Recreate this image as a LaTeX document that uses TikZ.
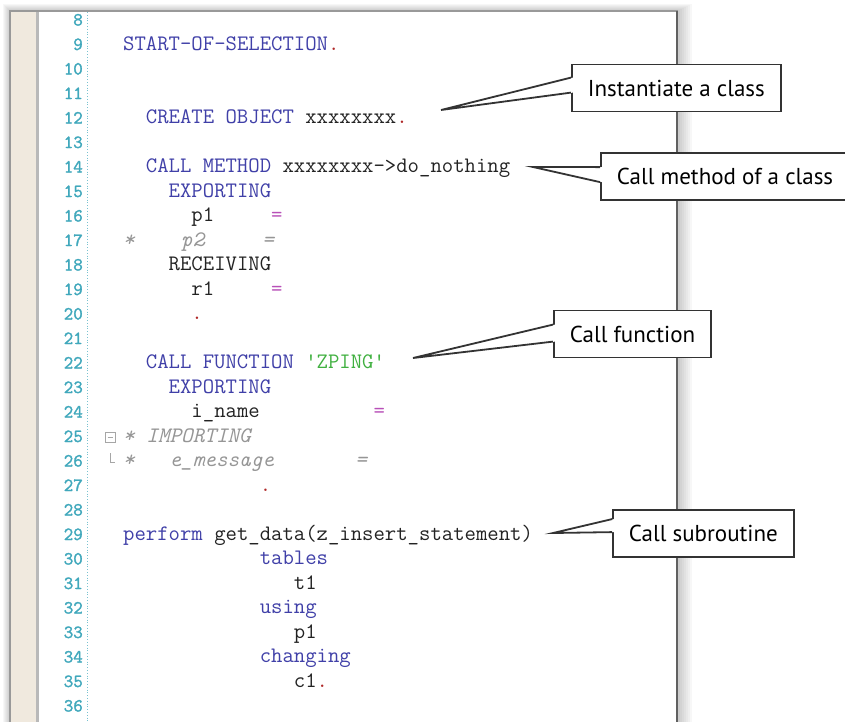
\documentclass[tikz,border=0pt]{standalone}
\usepackage{fontspec}
\newfontfamily\calloutfont{PT Sans}
\newfontfamily\numfont[FakeBold=1.6]{Latin Modern Mono}
\usetikzlibrary{positioning,calc}

\definecolor{kwblue}{RGB}{64,64,168}
\definecolor{numteal}{RGB}{64,168,188}
\definecolor{eqpink}{RGB}{184,80,184}
\definecolor{dotred}{RGB}{176,40,40}
\definecolor{strgreen}{RGB}{64,176,64}
\definecolor{cmtgray}{RGB}{150,150,150}
\definecolor{codeblack}{RGB}{35,35,35}
\definecolor{guttercol}{RGB}{240,233,222}

\newcommand{\kwd}[1]{\textcolor{kwblue}{#1}}
\newcommand{\eqs}{\textcolor{eqpink}{=}}
\newcommand{\pnt}{\textcolor{dotred}{.}}
\newcommand{\strg}[1]{\textcolor{strgreen}{#1}}
\newcommand{\cmt}[1]{\textcolor{cmtgray}{\itshape #1}}

\tikzset{
  code/.style={anchor=base west, inner sep=0pt, text=codeblack, font=\fontsize{22.1}{26}\selectfont\ttfamily},
  lnum/.style={anchor=base east, inner sep=0pt, text=numteal, font=\fontsize{18.5}{22}\selectfont\numfont},
  callout/.style={draw=black!80, line width=1.8pt, fill=white, anchor=west, inner xsep=16pt, minimum height=47pt, font=\fontsize{23}{28}\selectfont\calloutfont},
  pointer/.style={draw=black!80, line width=1.8pt, line join=miter},
}

\begin{document}
\begin{tikzpicture}[x=1pt,y=-1pt]
        \useasboundingbox (0,0) rectangle (845,721);
        \clip (0,0) rectangle (845,721);

        % editor window
        \foreach \d in {1,...,7}
            \fill[black,opacity=0.03] ({10-\d},{11-\d}) rectangle ({678+2*\d},730);
        \fill[white] (10,11) rectangle (678,730);
        \fill[guttercol] (11,12) rectangle (36,730);
        \fill[gray!55] (36,12) rectangle (39,730);
        \draw[gray!80,line width=1.5pt] (10,730) -- (10,11) -- (678,11);
        \draw[gray!75!black,line width=2pt] (677,11) -- (677,730);
        \draw[numteal!70,dotted,line width=0.8pt] (87,12) -- (87,730);

        % line numbers
        \foreach \n in {8,...,36}
            \node[lnum] (n\n) at (83,{25.5+(\n-8)*24.5}) {\n};

        % fold markers
        \draw[gray!70,line width=0.8pt] (105,432) rectangle (115,442);
        \draw[gray!70,line width=0.8pt] (107.5,437) -- (112.5,437);
        \draw[gray!70,line width=0.8pt] (110,453) -- (110,462) -- (115,462);

        % code
        \node[code] (c9) at (123,50) {\kwd{START-OF-SELECTION}\pnt};
        \node[code] (c12) at (123,123.5) {~~\kwd{CREATE~OBJECT}~xxxxxxxx\pnt};
        \node[code] (c14) at (123,172.5) {~~\kwd{CALL~METHOD}~xxxxxxxx->do\_nothing};
        \node[code] (c15) at (123,197) {~~~~\kwd{EXPORTING}};
        \node[code] (c16) at (123,221.5) {~~~~~~p1~~~~~\eqs};
        \node[code] (c17) at (123,246) {\cmt{*~~~~p2~~~~~=}};
        \node[code] (c18) at (123,270.5) {~~~~RECEIVING};
        \node[code] (c19) at (123,295) {~~~~~~r1~~~~~\eqs};
        \node[code] (c20) at (123,319.5) {~~~~~~\pnt};
        \node[code] (c22) at (123,368.5) {~~\kwd{CALL~FUNCTION}~\strg{\textquotesingle ZPING\textquotesingle}};
        \node[code] (c23) at (123,393) {~~~~\kwd{EXPORTING}};
        \node[code] (c24) at (123,417.5) {~~~~~~i\_name~~~~~~~~~~\eqs};
        \node[code] (c25) at (123,442) {\cmt{*~IMPORTING}};
        \node[code] (c26) at (123,466.5) {\cmt{*~~~e\_message~~~~~~~=}};
        \node[code] (c27) at (123,491) {~~~~~~~~~~~~\pnt};
        \node[code] (c29) at (123,540) {\kwd{perform}~get\_data(z\_insert\_statement)};
        \node[code] (c30) at (123,564.5) {~~~~~~~~~~~~\kwd{tables}};
        \node[code] (c31) at (123,589) {~~~~~~~~~~~~~~~t1};
        \node[code] (c32) at (123,613.5) {~~~~~~~~~~~~\kwd{using}};
        \node[code] (c33) at (123,638) {~~~~~~~~~~~~~~~p1};
        \node[code] (c34) at (123,662.5) {~~~~~~~~~~~~\kwd{changing}};
        \node[code] (c35) at (123,687) {~~~~~~~~~~~~~~~c1\pnt};

        % callouts
        \coordinate (tip12) at (441,110);
        \coordinate (tip14) at (533,167);
        \coordinate (tip22) at (413,358);
        \coordinate (tip29) at (553,533);

        \node[callout] (inst) at (571,88) {Instantiate a class};
        \node[callout] (meth) at (600,176.5) {Call method of a class};
        \node[callout] (func) at (553,334) {Call function};
        \node[callout] (sub) at (612,533.5) {Call subroutine};

        \fill[white] ($(inst.north west)+(2,14)$) -- (tip12) -- ($(inst.north west)+(2,29)$) -- cycle;
        \draw[pointer] ($(inst.north west)+(0,14)$) -- (tip12) -- ($(inst.north west)+(0,29)$);
        \fill[white] ($(meth.north west)+(2,15)$) -- (tip14) -- ($(meth.north west)+(2,30)$) -- cycle;
        \draw[pointer] ($(meth.north west)+(0,15)$) -- (tip14) -- ($(meth.north west)+(0,30)$);
        \fill[white] ($(func.north west)+(2,15)$) -- (tip22) -- ($(func.north west)+(2,32)$) -- cycle;
        \draw[pointer] ($(func.north west)+(0,15)$) -- (tip22) -- ($(func.north west)+(0,32)$);
        \fill[white] ($(sub.north west)+(2,10)$) -- (tip29) -- ($(sub.north west)+(2,23)$) -- cycle;
        \draw[pointer] ($(sub.north west)+(0,10)$) -- (tip29) -- ($(sub.north west)+(0,23)$);
\end{tikzpicture}
\end{document}
